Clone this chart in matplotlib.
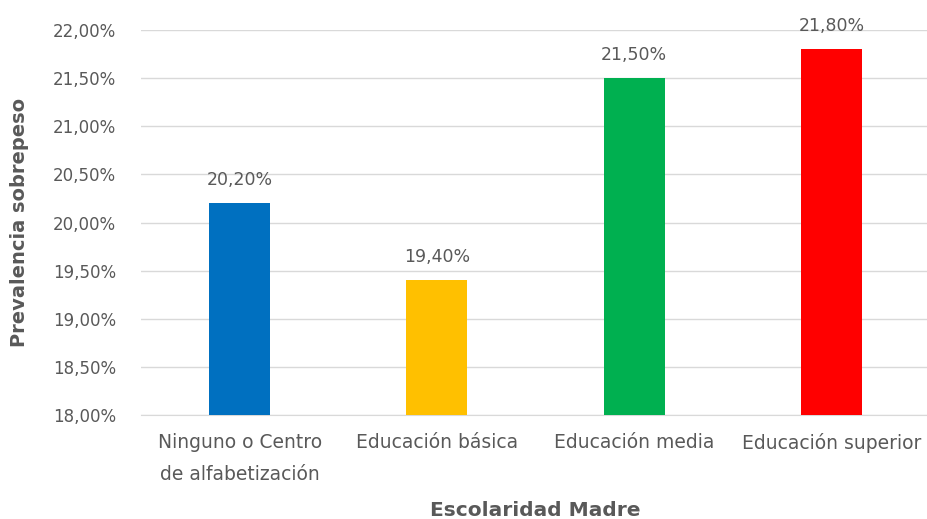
import matplotlib.pyplot as plt
from matplotlib.ticker import FuncFormatter

categorias = ['Ninguno o Centro\nde alfabetización', 'Educación básica',
              'Educación media', 'Educación superior']
prevalencia = [20.20, 19.40, 21.50, 21.80]
colores = ['#0070C0', '#FFC000', '#00B050', '#FF0000']
yticks = [18.0, 18.5, 19.0, 19.5, 20.0, 20.5, 21.0, 21.5, 22.0]

gris = '#595959'
plt.rcParams['font.family'] = ['DejaVu Sans']

def pct(v, pos=None):
    return '{:.2f}%'.format(v).replace('.', ',')

fig = plt.figure(figsize=(9.27, 5.19), dpi=100)
ax = fig.add_axes([141 / 927, 104 / 519, 789 / 927, 385 / 519])

x = range(len(categorias))
ax.bar(x, prevalencia, width=0.31, color=colores, zorder=3)
for xi, v in zip(x, prevalencia):
    ax.annotate(pct(v), (xi, v), xytext=(0, 10), textcoords='offset points',
                ha='center', va='bottom', fontsize=12.5, color=gris)

ax.set_xlim(-0.5, 3.5)
ax.set_ylim(18, 22)
ax.set_yticks(yticks)
ax.yaxis.set_major_formatter(FuncFormatter(pct))
ax.set_xticks(list(x))
ax.set_xticklabels(categorias, fontsize=13.5, color=gris, linespacing=1.85)
ax.tick_params(axis='y', labelsize=12, labelcolor=gris, length=0, pad=18)
ax.tick_params(axis='x', length=0, pad=13)
ax.grid(axis='y', color='#D9D9D9', linewidth=1, zorder=0)
for s in ['top', 'right', 'left']:
    ax.spines[s].set_visible(False)
ax.spines['bottom'].set_color('#D9D9D9')

fig.text(20 / 927, 1 - 222 / 519, 'Prevalencia sobrepeso', rotation=90, ha='center', va='center',
         fontsize=14, fontweight='bold', color=gris)
fig.text(535 / 927, 1 - 511 / 519, 'Escolaridad Madre', ha='center', va='center',
         fontsize=14.5, fontweight='bold', color=gris)

plt.savefig('out.png', dpi=100)
